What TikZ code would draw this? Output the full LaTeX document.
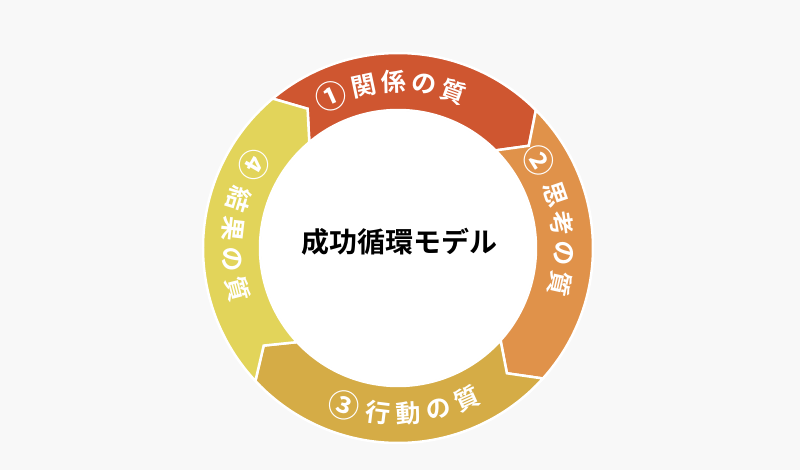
\documentclass[tikz,border=0pt]{standalone}
\usepackage{fontspec}
\newfontfamily\cjk{Noto Sans CJK JP Bold}
\begin{document}
\begin{tikzpicture}[x=1pt,y=1pt,
  seg/.style={draw=white,line width=2.5pt,line join=miter},
  ch/.style={text=white,font=\cjk\fontsize{25}{25}\selectfont,inner sep=0pt},
  num/.style={ch,scale=1.25}]
\fill[fill={rgb,255:red,248;green,248;blue,248}] (-398,-222) rectangle (402,248);
\useasboundingbox (-398,-222) rectangle (402,248);
\definecolor{cred}{RGB}{207,86,48}
\definecolor{corange}{RGB}{224,146,74}
\definecolor{cgold}{RGB}{213,172,70}
\definecolor{cyellow}{RGB}{226,212,90}
\def\R{195}\def\r{138}\def\m{166}\def\d{7}
\foreach \a/\b/\col in {130/45/cred, 45/-42/corange, -42/-137/cgold, -137/-230/cyellow}{
  \pgfmathsetmacro\bt{\b-\d}\pgfmathsetmacro\at{\a-\d}
  \path[seg,fill=\col] (\a:\R) arc[start angle=\a,end angle=\b,radius=\R]
    -- (\bt:\m) -- (\b:\r) arc[start angle=\b,end angle=\a,radius=\r]
    -- (\at:\m) -- cycle;
}
\fill[white] (0,0) circle (\r-1);
\node[font=\cjk\fontsize{28}{28}\selectfont] (title) at (2,6) {成功循環モデル};
% 1
\node[num,rotate=24] (n1) at (114:\m) {①};
\foreach \c [count=\i] in {関,係,の,質}{
  \pgfmathsetmacro\ang{102-10.5*(\i-1)}
  \node[ch,rotate=\ang-90] (t1\i) at (\ang:\m) {\c};}
% 2
\node[num,rotate=-58] (n2) at (32:\m) {②};
\foreach \c [count=\i] in {思,考,の,質}{
  \pgfmathsetmacro\ang{19-10.5*(\i-1)}
  \node[ch,rotate=\ang-90] (t2\i) at (\ang:\m) {\c};}
% 3
\node[num,rotate=-19] (n3) at (-109:\m) {③};
\foreach \c [count=\i] in {行,動,の,質}{
  \pgfmathsetmacro\ang{-97+10.5*(\i-1)}
  \node[ch,rotate=\ang+90] (t3\i) at (\ang:\m) {\c};}
% 4
\node[num,rotate=-120] (n4) at (150:\m) {④};
\foreach \c [count=\i] in {結,果,の,質}{
  \pgfmathsetmacro\ang{163+10.5*(\i-1)}
  \node[ch,rotate=\ang+90] (t4\i) at (\ang:\m) {\c};}
\end{tikzpicture}
\end{document}
